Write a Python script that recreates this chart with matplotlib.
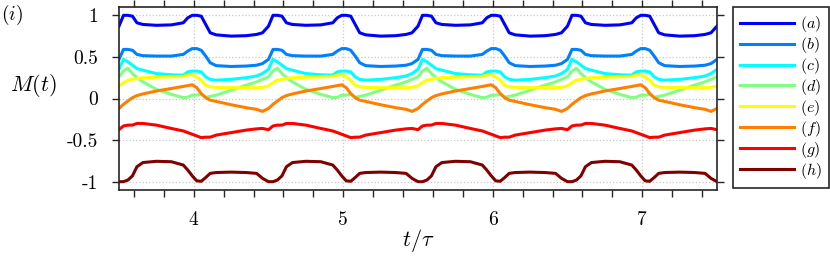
import numpy as np
import matplotlib
matplotlib.use('Agg')
import matplotlib.pyplot as plt

# time axis t/tau
t = np.array([
    3.50, 3.53, 3.56, 3.59, 3.62, 3.66, 3.75, 3.85, 3.93, 3.96, 3.99, 4.02, 4.05, 4.08, 4.11, 4.15, 4.25, 4.35, 4.42, 4.46,
    4.50, 4.53, 4.56, 4.59, 4.62, 4.66, 4.75, 4.85, 4.93, 4.96, 4.99, 5.02, 5.05, 5.08, 5.11, 5.15, 5.25, 5.35, 5.42, 5.46,
    5.50, 5.53, 5.56, 5.59, 5.62, 5.66, 5.75, 5.85, 5.93, 5.96, 5.99, 6.02, 6.05, 6.08, 6.11, 6.15, 6.25, 6.35, 6.42, 6.46,
    6.50, 6.53, 6.56, 6.59, 6.62, 6.66, 6.75, 6.85, 6.93, 6.96, 6.99, 7.02, 7.05, 7.08, 7.11, 7.15, 7.25, 7.35, 7.42, 7.46,
    7.50])

m_a = [
    0.87, 1.00, 1.00, 0.99, 0.91, 0.89, 0.88, 0.885, 0.91, 0.97, 1.00, 1.00, 0.99, 0.89, 0.79, 0.765, 0.75, 0.755, 0.77, 0.79,
    0.87, 1.00, 1.00, 0.99, 0.91, 0.89, 0.88, 0.885, 0.91, 0.97, 1.00, 1.00, 0.99, 0.89, 0.79, 0.765, 0.75, 0.755, 0.77, 0.79,
    0.87, 1.00, 1.00, 0.99, 0.91, 0.89, 0.88, 0.885, 0.91, 0.97, 1.00, 1.00, 0.99, 0.89, 0.79, 0.765, 0.75, 0.755, 0.77, 0.79,
    0.87, 1.00, 1.00, 0.99, 0.91, 0.89, 0.88, 0.885, 0.91, 0.97, 1.00, 1.00, 0.99, 0.89, 0.79, 0.765, 0.75, 0.755, 0.77, 0.79,
    0.87]
m_b = [
    0.47, 0.59, 0.59, 0.58, 0.53, 0.515, 0.51, 0.51, 0.53, 0.57, 0.60, 0.60, 0.58, 0.51, 0.43, 0.395, 0.385, 0.39, 0.40, 0.42,
    0.47, 0.59, 0.59, 0.58, 0.53, 0.515, 0.51, 0.51, 0.53, 0.57, 0.60, 0.60, 0.58, 0.51, 0.43, 0.395, 0.385, 0.39, 0.40, 0.42,
    0.47, 0.59, 0.59, 0.58, 0.53, 0.515, 0.51, 0.51, 0.53, 0.57, 0.60, 0.60, 0.58, 0.51, 0.43, 0.395, 0.385, 0.39, 0.40, 0.42,
    0.47, 0.59, 0.59, 0.58, 0.53, 0.515, 0.51, 0.51, 0.53, 0.57, 0.60, 0.60, 0.58, 0.51, 0.43, 0.395, 0.385, 0.39, 0.40, 0.42,
    0.47]
m_c = [
    0.35, 0.47, 0.44, 0.40, 0.36, 0.34, 0.30, 0.285, 0.28, 0.32, 0.33, 0.33, 0.32, 0.26, 0.23, 0.22, 0.23, 0.25, 0.27, 0.30,
    0.35, 0.47, 0.44, 0.40, 0.36, 0.34, 0.30, 0.285, 0.28, 0.32, 0.33, 0.33, 0.32, 0.26, 0.23, 0.22, 0.23, 0.25, 0.27, 0.30,
    0.35, 0.47, 0.44, 0.40, 0.36, 0.34, 0.30, 0.285, 0.28, 0.32, 0.33, 0.33, 0.32, 0.26, 0.23, 0.22, 0.23, 0.25, 0.27, 0.30,
    0.35, 0.47, 0.44, 0.40, 0.36, 0.34, 0.30, 0.285, 0.28, 0.32, 0.33, 0.33, 0.32, 0.26, 0.23, 0.22, 0.23, 0.25, 0.27, 0.30,
    0.35]
m_d = [
    0.26, 0.33, 0.365, 0.30, 0.25, 0.20, 0.11, 0.05, 0.01, 0.015, 0.04, 0.04, 0.05, 0.015, 0.025, 0.04, 0.10, 0.16, 0.20, 0.23,
    0.26, 0.33, 0.365, 0.30, 0.25, 0.20, 0.11, 0.05, 0.01, 0.015, 0.04, 0.04, 0.05, 0.015, 0.025, 0.04, 0.10, 0.16, 0.20, 0.23,
    0.26, 0.33, 0.365, 0.30, 0.25, 0.20, 0.11, 0.05, 0.01, 0.015, 0.04, 0.04, 0.05, 0.015, 0.025, 0.04, 0.10, 0.16, 0.20, 0.23,
    0.26, 0.33, 0.365, 0.30, 0.25, 0.20, 0.11, 0.05, 0.01, 0.015, 0.04, 0.04, 0.05, 0.015, 0.025, 0.04, 0.10, 0.16, 0.20, 0.23,
    0.26]
m_e = [
    0.15, 0.19, 0.22, 0.23, 0.24, 0.25, 0.255, 0.26, 0.265, 0.28, 0.29, 0.26, 0.22, 0.16, 0.14, 0.135, 0.13, 0.13, 0.13, 0.135,
    0.15, 0.19, 0.22, 0.23, 0.24, 0.25, 0.255, 0.26, 0.265, 0.28, 0.29, 0.26, 0.22, 0.16, 0.14, 0.135, 0.13, 0.13, 0.13, 0.135,
    0.15, 0.19, 0.22, 0.23, 0.24, 0.25, 0.255, 0.26, 0.265, 0.28, 0.29, 0.26, 0.22, 0.16, 0.14, 0.135, 0.13, 0.13, 0.13, 0.135,
    0.15, 0.19, 0.22, 0.23, 0.24, 0.25, 0.255, 0.26, 0.265, 0.28, 0.29, 0.26, 0.22, 0.16, 0.14, 0.135, 0.13, 0.13, 0.13, 0.135,
    0.15]
m_f = [
    -0.12, -0.07, -0.03, 0.01, 0.035, 0.055, 0.09, 0.12, 0.145, 0.155, 0.165, 0.13, 0.06, 0.01, -0.02, -0.035, -0.075, -0.11, -0.13, -0.155,
    -0.12, -0.07, -0.03, 0.01, 0.035, 0.055, 0.09, 0.12, 0.145, 0.155, 0.165, 0.13, 0.06, 0.01, -0.02, -0.035, -0.075, -0.11, -0.13, -0.155,
    -0.12, -0.07, -0.03, 0.01, 0.035, 0.055, 0.09, 0.12, 0.145, 0.155, 0.165, 0.13, 0.06, 0.01, -0.02, -0.035, -0.075, -0.11, -0.13, -0.155,
    -0.12, -0.07, -0.03, 0.01, 0.035, 0.055, 0.09, 0.12, 0.145, 0.155, 0.165, 0.13, 0.06, 0.01, -0.02, -0.035, -0.075, -0.11, -0.13, -0.155,
    -0.12]
m_g = [
    -0.375, -0.33, -0.32, -0.32, -0.30, -0.30, -0.32, -0.36, -0.39, -0.41, -0.43, -0.45, -0.47, -0.465, -0.465, -0.44, -0.41, -0.38, -0.365, -0.36,
    -0.375, -0.33, -0.32, -0.32, -0.30, -0.30, -0.32, -0.36, -0.39, -0.41, -0.43, -0.45, -0.47, -0.465, -0.465, -0.44, -0.41, -0.38, -0.365, -0.36,
    -0.375, -0.33, -0.32, -0.32, -0.30, -0.30, -0.32, -0.36, -0.39, -0.41, -0.43, -0.45, -0.47, -0.465, -0.465, -0.44, -0.41, -0.38, -0.365, -0.36,
    -0.375, -0.33, -0.32, -0.32, -0.30, -0.30, -0.32, -0.36, -0.39, -0.41, -0.43, -0.45, -0.47, -0.465, -0.465, -0.44, -0.41, -0.38, -0.365, -0.36,
    -0.375]
m_h = [
    -1.00, -1.00, -0.98, -0.93, -0.82, -0.77, -0.755, -0.76, -0.80, -0.86, -0.93, -0.99, -0.995, -0.95, -0.90, -0.89, -0.885, -0.89, -0.90, -0.96,
    -1.00, -1.00, -0.98, -0.93, -0.82, -0.77, -0.755, -0.76, -0.80, -0.86, -0.93, -0.99, -0.995, -0.95, -0.90, -0.89, -0.885, -0.89, -0.90, -0.96,
    -1.00, -1.00, -0.98, -0.93, -0.82, -0.77, -0.755, -0.76, -0.80, -0.86, -0.93, -0.99, -0.995, -0.95, -0.90, -0.89, -0.885, -0.89, -0.90, -0.96,
    -1.00, -1.00, -0.98, -0.93, -0.82, -0.77, -0.755, -0.76, -0.80, -0.86, -0.93, -0.99, -0.995, -0.95, -0.90, -0.89, -0.885, -0.89, -0.90, -0.96,
    -1.00]

series = [m_a, m_b, m_c, m_d, m_e, m_f, m_g, m_h]
labels = ['$(a)$', '$(b)$', '$(c)$', '$(d)$', '$(e)$', '$(f)$', '$(g)$', '$(h)$']
x_ticks = [4, 5, 6, 7]
x_ticklabels = ['4', '5', '6', '7']
y_ticks = [-1, -0.5, 0, 0.5, 1]
y_ticklabels = ['-1', '-0.5', '0', '0.5', '1']

# jet(8) colours
colors = [(0, 0, 1), (0, 0.5, 1), (0, 1, 1), (0.5, 1, 0.5),
          (1, 1, 0), (1, 0.5, 0), (1, 0, 0), (0.5, 0, 0)]

plt.rcParams['mathtext.fontset'] = 'cm'
plt.rcParams['font.family'] = 'cmr10'
plt.rcParams['axes.unicode_minus'] = False

W, H = 830, 257
fig = plt.figure(figsize=(W / 100, H / 100), dpi=100)
ax = fig.add_axes([119 / W, 1 - 190 / H, (717 - 119) / W, (190 - 7) / H])

lines = []
for vals, c, lab in zip(series, colors, labels):
    ln, = ax.plot(t, vals, color=c, lw=2.2, label=lab, solid_joinstyle='round')
    lines.append(ln)

ax.set_xlim(3.5, 7.5)
ax.set_ylim(-1.1, 1.1)
ax.set_xticks(x_ticks)
ax.set_xticklabels(x_ticklabels)
ax.set_xticks(np.arange(3.6, 7.5, 0.2), minor=True)
ax.set_yticks(y_ticks)
ax.set_yticklabels(y_ticklabels)
ax.tick_params(which='both', direction='out', top=True, right=True,
               length=5, width=1, color='#262626', labelsize=14)
ax.tick_params(axis='x', pad=10)
ax.tick_params(axis='y', pad=10)
ax.grid(True, which='major', ls=':', color='#c8c8c8', lw=0.9)
for s in ax.spines.values():
    s.set_linewidth(1.2)
    s.set_color('#262626')

fig.text(33 / W, 1 - 86 / H, '$M(t)$', fontsize=16, ha='center', va='center')
fig.text(418 / W, 1 - 240 / H, '$t/\\tau$', fontsize=16, ha='center', va='center')
fig.text(1 / W, 1 - 15 / H, '$(i)$', fontsize=14, ha='left', va='center')

leg = fig.legend(lines, labels, loc='upper left', bbox_to_anchor=(733 / W, 1 - 7 / H),
                 frameon=True, fancybox=False, edgecolor='#262626', framealpha=1,
                 handlelength=3.4, handletextpad=0.35, labelspacing=0.06,
                 borderpad=0.45, borderaxespad=0, fontsize=11.5)
leg.get_frame().set_linewidth(1.2)
for lh in leg.get_lines():
    lh.set_linewidth(2.2)

fig.savefig('out.png', dpi=100)
